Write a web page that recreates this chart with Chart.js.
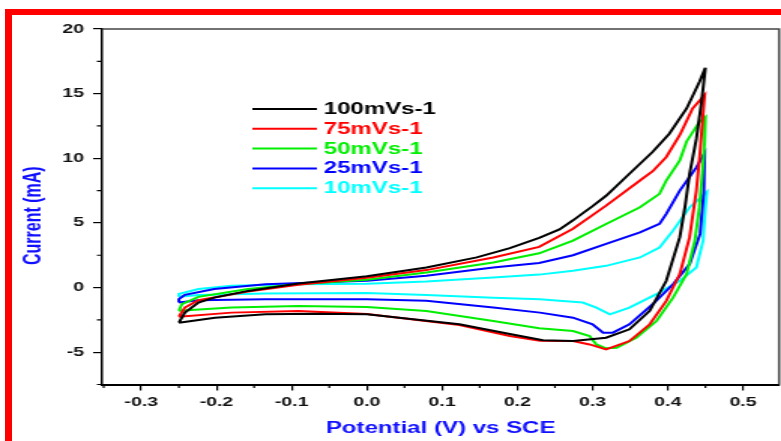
<!DOCTYPE html>
<html>
<head>
<meta charset="utf-8">
<script src="https://cdn.jsdelivr.net/npm/chart.js@4.4.0/dist/chart.umd.min.js"></script>
<style>
  html, body { margin: 0; padding: 0; background: #fff; overflow: hidden; }
  #page { position: relative; width: 781px; height: 441px; overflow: hidden; }
  #frame { position: absolute; left: 5px; top: 9px; width: 900px; height: 600px;
           border-left: 7px solid #ff0000; border-top: 6px solid #ff0000; }
  /* the source picture is stretched sideways, so draw narrow and stretch */
  #wrap { position: absolute; left: 0; top: 0; width: 520px; height: 441px;
          transform-origin: 0 0; transform: scaleX(1.502); }
</style>
</head>
<body>
<div id="page">
  <div id="frame"></div>
  <div id="wrap"><canvas id="cv"></canvas></div>
</div>
<script>
// scan rates
const rates = ['100mVs-1', '75mVs-1', '50mVs-1', '25mVs-1', '10mVs-1']

// potential (V) and current (mA) around each loop
const v100 = [-0.25, -0.242, -0.224, -0.203, -0.158, -0.091, 0.0, 0.079, 0.146, 0.19, 0.229, 0.256, 0.274, 0.3, 0.318, 0.349, 0.38, 0.402, 0.425, 0.442, 0.45,
              0.445, 0.438, 0.429, 0.423, 0.416, 0.398, 0.376, 0.349, 0.318, 0.274, 0.234, 0.19, 0.123, 0.0, -0.069, -0.135, -0.202, -0.25]
const i100 = [-2.72, -1.94, -1.16, -0.78, -0.26, 0.31, 0.87, 1.55, 2.33, 3.05, 3.85, 4.5, 5.2, 6.3, 7.1, 8.8, 10.5, 11.9, 13.85, 15.9, 17.0,
              14.4, 11.5, 8.8, 6.3, 3.9, 0.52, -1.8, -3.23, -3.88, -4.14, -4.08, -3.6, -2.84, -2.07, -2.02, -2.07, -2.33, -2.72]

const v75 = [-0.25, -0.242, -0.224, -0.158, -0.091, 0.0, 0.079, 0.168, 0.229, 0.274, 0.318, 0.363, 0.38, 0.398, 0.416, 0.433, 0.449,
             0.446, 0.443, 0.438, 0.429, 0.416, 0.398, 0.376, 0.349, 0.318, 0.296, 0.274, 0.23, 0.19, 0.123, 0.0, -0.091, -0.18, -0.25]
const i75 = [-2.25, -1.55, -0.98, -0.31, 0.21, 0.75, 1.35, 2.33, 3.15, 4.55, 6.34, 8.28, 9.0, 10.1, 11.8, 13.85, 14.9,
             12.8, 10.5, 7.5, 3.9, 1.04, -1.03, -2.84, -4.14, -4.78, -4.4, -4.14, -4.12, -3.75, -2.9, -2.05, -1.81, -1.94, -2.25]

const v50 = [-0.25, -0.246, -0.224, -0.158, -0.091, 0.0, 0.079, 0.168, 0.229, 0.274, 0.318, 0.363, 0.389, 0.398, 0.416, 0.425, 0.442, 0.45,
             0.449, 0.446, 0.442, 0.436, 0.425, 0.407, 0.385, 0.358, 0.332, 0.318, 0.305, 0.296, 0.274, 0.229, 0.168, 0.079, 0.0, -0.091, -0.18, -0.25]
const i50 = [-1.8, -1.29, -0.72, -0.12, 0.26, 0.6, 1.16, 1.94, 2.65, 3.63, 4.92, 6.21, 7.25, 8.28, 9.83, 11.3, 12.8, 13.2,
             11.3, 8.8, 6.2, 3.63, 1.04, -0.78, -2.59, -3.88, -4.66, -4.7, -4.4, -3.75, -3.36, -3.15, -2.59, -1.81, -1.5, -1.42, -1.55, -1.8]

const v25 = [-0.25, -0.25, -0.242, -0.203, -0.135, 0.0, 0.079, 0.168, 0.229, 0.274, 0.318, 0.363, 0.389, 0.398, 0.416, 0.438, 0.449,
             0.448, 0.443, 0.429, 0.407, 0.38, 0.349, 0.327, 0.314, 0.3, 0.274, 0.23, 0.168, 0.079, 0.0, -0.135, -0.224, -0.25]
const i25 = [-1.16, -0.9, -0.57, -0.12, 0.26, 0.52, 0.91, 1.55, 1.9, 2.5, 3.37, 4.27, 4.92, 5.7, 7.5, 9.3, 10.4,
             7.5, 4.15, 1.82, 0.26, -1.29, -2.84, -3.49, -3.49, -2.84, -2.33, -1.94, -1.55, -1.03, -0.9, -0.9, -0.98, -1.16]

const v10 = [-0.25, -0.25, -0.224, -0.18, -0.091, 0.0, 0.079, 0.168, 0.229, 0.274, 0.318, 0.363, 0.389, 0.407, 0.429, 0.452,
             0.45, 0.447, 0.438, 0.416, 0.385, 0.349, 0.323, 0.305, 0.287, 0.256, 0.23, 0.168, 0.079, 0.0, -0.135, -0.224, -0.25]
const i10 = [-0.72, -0.5, -0.12, 0.13, 0.26, 0.3, 0.47, 0.78, 1.0, 1.3, 1.68, 2.33, 3.1, 4.4, 6.2, 7.4,
             6.2, 3.63, 1.55, 0.52, -0.51, -1.55, -2.07, -1.55, -1.16, -1.03, -0.9, -0.78, -0.57, -0.42, -0.47, -0.57, -0.72]

// axis ticks
const xTicks = [-0.3, -0.2, -0.1, 0.0, 0.1, 0.2, 0.3, 0.4, 0.5]
const xMinor = [-0.35, -0.25, -0.15, -0.05, 0.05, 0.15, 0.25, 0.35, 0.45]
const yTicks = [-5, 0, 5, 10, 15, 20]
const yMinor = [-7.5, -2.5, 2.5, 7.5, 12.5, 17.5]

const colors = ['#000000', '#ff0000', '#00ee00', '#0000ff', '#00ffff']
const series = [[v100, i100], [v75, i75], [v50, i50], [v25, i25], [v10, i10]]

function pts(v, i) {
    return v.map((x, k) => ({ x: x, y: i[k] }))
}

const fontFam = '"Liberation Sans", Arial, sans-serif'

// minor ticks, top/right frame and the legend box
const extras = {
    id: 'extras',
    afterDraw(chart) {
        const ctx = chart.ctx
        const a = chart.chartArea
        const x = chart.scales.x
        const y = chart.scales.y
        ctx.save()
        ctx.strokeStyle = '#000'
        ctx.lineWidth = 1.2
        ctx.beginPath()
        xMinor.forEach(v => {
            const p = x.getPixelForValue(v)
            ctx.moveTo(p, a.bottom)
            ctx.lineTo(p, a.bottom + 3.5)
        })
        yMinor.forEach(v => {
            const p = y.getPixelForValue(v)
            ctx.moveTo(a.left, p)
            ctx.lineTo(a.left - 3.5, p)
        })
        ctx.stroke()

        ctx.strokeStyle = '#444'
        ctx.lineWidth = 1.5
        ctx.beginPath()
        ctx.moveTo(a.left, a.top)
        ctx.lineTo(a.right, a.top)
        ctx.lineTo(a.right, a.bottom)
        ctx.stroke()

        // legend
        ctx.font = 'bold 16px ' + fontFam
        ctx.textBaseline = 'middle'
        ctx.textAlign = 'left'
        chart.data.datasets.forEach((ds, k) => {
            const ly = 109 + k * 19.8
            ctx.strokeStyle = ds.borderColor
            ctx.lineWidth = 2
            ctx.beginPath()
            ctx.moveTo(168, ly)
            ctx.lineTo(211, ly)
            ctx.stroke()
            ctx.fillStyle = ds.borderColor
            ctx.fillText(ds.label, 215.5, ly + 0.5)
        })
        ctx.restore()
    }
}

new Chart(document.getElementById('cv'), {
    type: 'scatter',
    data: {
        datasets: series.map((s, k) => ({
            label: rates[k],
            data: pts(s[0], s[1]),
            showLine: true,
            borderColor: colors[k],
            backgroundColor: colors[k],
            borderWidth: 2,
            pointRadius: 0,
            tension: 0
        }))
    },
    options: {
        responsive: true,
        maintainAspectRatio: false,
        animation: false,
        layout: { padding: { top: 29, right: 1.3, bottom: 0, left: 0 } },
        plugins: { legend: { display: false }, tooltip: { enabled: false } },
        scales: {
            x: {
                type: 'linear',
                min: -0.352,
                max: 0.548,
                afterBuildTicks: s => { s.ticks = xTicks.map(v => ({ value: v })) },
                afterFit: s => { s.height = 56.5 },
                ticks: {
                    autoSkip: false,
                    maxRotation: 0,
                    padding: 4,
                    color: '#111',
                    font: { family: fontFam, size: 13, weight: 'bold' },
                    callback: v => v.toFixed(1)
                },
                grid: { drawOnChartArea: false, tickLength: 6, color: '#000', lineWidth: 1.2 },
                border: { display: true, color: '#000', width: 2 },
                title: {
                    display: true,
                    text: 'Potential (V) vs SCE',
                    color: '#1010ff',
                    font: { family: fontFam, size: 16, weight: 'bold' },
                    padding: { top: 0, bottom: 3 }
                }
            },
            y: {
                type: 'linear',
                min: -7.5,
                max: 20,
                afterBuildTicks: s => { s.ticks = yTicks.map(v => ({ value: v })) },
                afterFit: s => { s.width = 68 },
                ticks: {
                    autoSkip: false,
                    padding: 6,
                    color: '#111',
                    font: { family: fontFam, size: 13, weight: 'bold' },
                    callback: v => String(v)
                },
                grid: { drawOnChartArea: false, tickLength: 6, color: '#000', lineWidth: 1.2 },
                border: { display: true, color: '#000', width: 1.5 },
                title: {
                    display: true,
                    // trailing spaces nudge the centred title a little lower
                    text: 'Current (mA)    ',
                    color: '#1010ff',
                    font: { family: fontFam, size: 16, weight: 'bold' },
                    padding: { top: 12.7, bottom: 0 }
                }
            }
        }
    },
    plugins: [extras]
})
</script>
</body>
</html>
